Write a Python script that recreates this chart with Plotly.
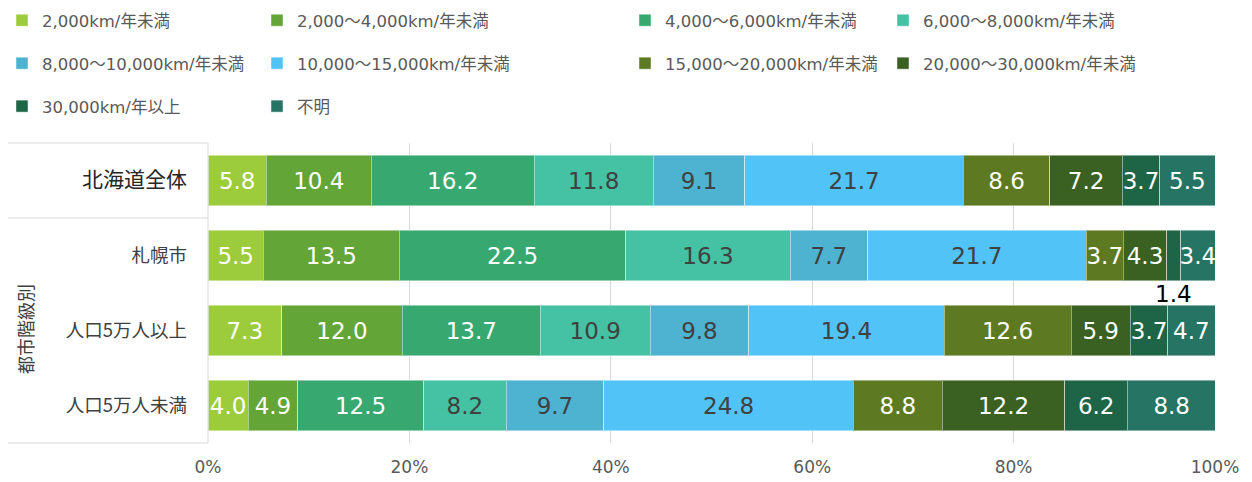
import plotly.graph_objects as go

# Annual mileage distribution (%) by region
categories = ["北海道全体", "札幌市", "人口5万人以上", "人口5万人未満"]

series_names = [
    "2,000km/年未満",
    "2,000～4,000km/年未満",
    "4,000～6,000km/年未満",
    "6,000～8,000km/年未満",
    "8,000～10,000km/年未満",
    "10,000～15,000km/年未満",
    "15,000～20,000km/年未満",
    "20,000～30,000km/年未満",
    "30,000km/年以上",
    "不明",
]

under_2000 = [5.8, 5.5, 7.3, 4.0]
km_2000_4000 = [10.4, 13.5, 12.0, 4.9]
km_4000_6000 = [16.2, 22.5, 13.7, 12.5]
km_6000_8000 = [11.8, 16.3, 10.9, 8.2]
km_8000_10000 = [9.1, 7.7, 9.8, 9.7]
km_10000_15000 = [21.7, 21.7, 19.4, 24.8]
km_15000_20000 = [8.6, 3.7, 12.6, 8.8]
km_20000_30000 = [7.2, 4.3, 5.9, 12.2]
over_30000 = [3.7, 1.4, 3.7, 6.2]
unknown = [5.5, 3.4, 4.7, 8.8]

series_values = [
    under_2000, km_2000_4000, km_4000_6000, km_6000_8000, km_8000_10000,
    km_10000_15000, km_15000_20000, km_20000_30000, over_30000, unknown,
]

x_tick_vals = [0, 20, 40, 60, 80, 100]
x_tick_text = ["0%", "20%", "40%", "60%", "80%", "100%"]

colors = [
    "#9CCC3C", "#64A537", "#37A870", "#44C2A3", "#4DB3D1",
    "#52C3F7", "#5D7A22", "#3A6122", "#1E6446", "#267564",
]
text_colors = [
    "white", "white", "white", "#404040", "#404040",
    "#404040", "white", "white", "white", "white",
]

# legend column assignment (4 columns laid out as in an Excel-style legend)
legend_of = ["legend", "legend2", "legend3", "legend4",
             "legend", "legend2", "legend3", "legend4",
             "legend", "legend2"]

FONT = "DejaVu Sans, Noto Sans CJK JP, sans-serif"
JP_FONT = "Noto Sans CJK JP, sans-serif"

# values whose label sits outside the bar (too narrow to hold it)
outside_label = {(8, 1)}

fig = go.Figure()
for i, (name, vals) in enumerate(zip(series_names, series_values)):
    texts = []
    for j, v in enumerate(vals):
        texts.append("" if (i, j) in outside_label else f"{v:.1f}")
    fig.add_trace(go.Bar(
        name=name,
        y=categories,
        x=vals,
        orientation="h",
        marker=dict(color=colors[i], line=dict(color="rgba(255,255,255,0.45)", width=1)),
        text=texts,
        textposition="inside",
        insidetextanchor="middle",
        textangle=0,
        constraintext="none",
        textfont=dict(family=FONT, size=23, color=text_colors[i]),
        legend=legend_of[i],
        legendgroup=name,
        hoverinfo="skip",
    ))

# label for the narrow segment, placed just under its bar
for (i, j) in outside_label:
    left = sum(series_values[k][j] for k in range(i))
    v = series_values[i][j]
    fig.add_annotation(
        x=left + v / 2, y=categories[j], xref="x", yref="y",
        xanchor="center", yanchor="middle",
        text=f"{v:.1f}", showarrow=False, yshift=-38,
        font=dict(family=FONT, size=23, color="black"),
    )

# plot area geometry in pixels
W, H = 1252, 482
L, R, T, B = 208, 37, 143, 39
pw, ph = W - L - R, H - T - B


def px_x(p):
    return (p - L) / pw


def px_y(p):
    return (H - B - p) / ph


legend_common = dict(
    orientation="v", yanchor="top", xanchor="left",
    font=dict(family=FONT, size=16.5, color="#595959"),
    bgcolor="rgba(0,0,0,0)", itemwidth=30, tracegroupgap=18.5,
    itemclick=False, itemdoubleclick=False,
)
legend_x_px = [2, 257, 625, 883]
legends = {}
for k, key in enumerate(["legend", "legend2", "legend3", "legend4"]):
    legends[key] = dict(legend_common, x=px_x(legend_x_px[k]), y=px_y(3))

ticktext = [
    "<span style='font-size:21px;color:#262626'>北海道全体</span>",
    "札幌市",
    "人口5万人以上",
    "人口5万人未満",
]

line_style = dict(color="#D9D9D9", width=1)
shapes = [
    # frame around the category labels
    dict(type="line", xref="paper", yref="paper", x0=px_x(8), x1=0, y0=1, y1=1, line=line_style),
    dict(type="line", xref="paper", yref="paper", x0=px_x(8), x1=0, y0=0.75, y1=0.75, line=line_style),
    dict(type="line", xref="paper", yref="paper", x0=px_x(8), x1=0, y0=0, y1=0, line=line_style),
    dict(type="line", xref="paper", yref="paper", x0=0, x1=0, y0=0, y1=1, line=line_style),
]

fig.add_annotation(
    x=px_x(25), y=0.38, xref="paper", yref="paper",
    xanchor="center", yanchor="middle",
    text="都市階級別", textangle=-90, showarrow=False,
    font=dict(family=JP_FONT, size=18, color="#404040"),
)

fig.update_layout(
    width=W, height=H,
    margin=dict(l=L, r=R, t=T, b=B, pad=0, autoexpand=False),
    barmode="stack",
    bargap=0.33,
    plot_bgcolor="white",
    paper_bgcolor="white",
    showlegend=True,
    shapes=shapes,
    xaxis=dict(
        range=[0, 100], tickvals=x_tick_vals, ticktext=x_tick_text,
        showgrid=True, gridcolor="#D9D9D9", gridwidth=1, zeroline=False,
        showline=False, ticks="", ticklabelstandoff=12, automargin=False,
        tickfont=dict(family=FONT, size=17, color="#595959"), fixedrange=True,
    ),
    yaxis=dict(
        categoryorder="array", categoryarray=categories, autorange="reversed",
        tickvals=categories, ticktext=ticktext, ticks="", showline=False,
        showgrid=False, ticklabelstandoff=20, automargin=False,
        tickfont=dict(family=JP_FONT, size=18.5, color="#404040"), fixedrange=True,
    ),
    **legends,
)

fig.write_html("out.html")
